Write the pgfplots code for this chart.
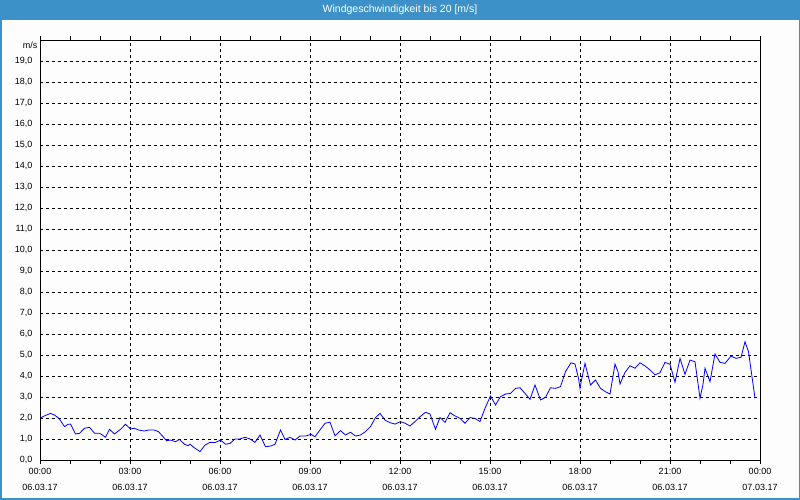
\documentclass[border=0pt]{standalone}
\usepackage{fontspec}
\setmainfont{Liberation Sans}
\usepackage{pgfplots}
\pgfplotsset{compat=1.18}
\definecolor{titleblue}{RGB}{60,145,200}
\definecolor{bgc}{RGB}{252,253,252}
\begin{document}
\begin{tikzpicture}[x=1pt,y=1pt]
\path[use as bounding box] (0,0) rectangle (800,500);
\fill[bgc] (0,0) rectangle (800,500);
\fill[titleblue] (0,480) rectangle (800,500);
\draw[titleblue, line width=3pt] (0,0) rectangle (800,500);
\node[text=white, font=\fontsize{10.5}{12}\selectfont] at (400,490.5) {Windgeschwindigkeit bis 20 [m/s]};
\node[anchor=east, font=\fontsize{9}{10}\selectfont, inner sep=0pt] at (37.5,455) {m/s};
\begin{axis}[
  at={(40pt,40pt)}, anchor=south west,
  scale only axis, width=720pt, height=420pt,
  xmin=0, xmax=1440, ymin=0, ymax=20,
  axis line style={black, line width=0.9pt},
  xtick={0,180,...,1440},
  minor x tick num=2,
  xticklabels={{00:00\\06.03.17},{03:00\\06.03.17},{06:00\\06.03.17},{09:00\\06.03.17},{12:00\\06.03.17},{15:00\\06.03.17},{18:00\\06.03.17},{21:00\\06.03.17},{00:00\\07.03.17}},
  xticklabel style={align=center, font=\fontsize{9}{15.7}\selectfont, yshift=-1pt},
  tick align=outside,
  major tick length=4pt, minor tick length=4pt,
  xtick style={black, line width=0.7pt},
  minor tick style={black, line width=0.7pt},
  ytick={0,1,...,19},
  ytick style={draw=none},
  /pgf/number format/assume math mode=true,
  yticklabel style={font=\fontsize{9}{10}\selectfont, /pgf/number format/.cd, fixed, fixed zerofill, precision=1, use comma},
  grid=major,
  major grid style={black, line width=0.6pt, dash pattern=on 3pt off 3pt},
]
\addplot[blue, line width=0.8pt] coordinates {
(1,2.0) (9,2.1) (21,2.22) (29,2.14) (38,1.98) (49,1.59) (56,1.70) (61,1.71)
(71,1.24) (79,1.27) (89,1.51) (99,1.56) (109,1.27) (119,1.27) (123,1.22) (131,1.08)
(139,1.46) (149,1.24) (161,1.46) (171,1.70) (181,1.48) (189,1.51) (197,1.43) (208,1.38)
(218,1.43) (228,1.43) (237,1.35) (248,1.06) (253,0.92) (261,0.95) (271,0.87) (279,0.98)
(289,0.75) (296,0.68) (300,0.75) (310,0.56) (320,0.40) (330,0.71) (340,0.84) (350,0.83)
(361,0.95) (371,0.75) (380,0.79) (390,1.0) (400,1.0) (410,1.08) (420,1.0) (430,0.84)
(440,1.19) (451,0.63) (462,0.67) (470,0.75) (481,1.43) (490,0.98) (500,1.08) (510,0.95)
(520,1.14) (531,1.14) (542,1.22) (550,1.11) (560,1.43) (570,1.75) (580,1.8) (590,1.15)
(601,1.40) (611,1.19) (621,1.32) (631,1.14) (641,1.19) (651,1.35) (661,1.59) (671,2.02)
(680,2.22) (690,1.90) (700,1.78) (710,1.71) (721,1.83) (730,1.75) (740,1.62) (750,1.83)
(760,2.06) (771,2.27) (780,2.19) (791,1.46) (800,2.03) (810,1.79) (820,2.25) (830,2.10)
(840,1.98) (850,1.75) (860,2.02) (870,1.98) (880,1.83) (890,2.46) (901,3.05) (911,2.62)
(921,3.02) (931,3.14) (941,3.17) (951,3.41) (960,3.44) (970,3.17) (980,2.89) (990,3.57)
(1001,2.86) (1011,2.98) (1021,3.44) (1031,3.41) (1041,3.49) (1051,4.21) (1062,4.63) (1070,4.57)
(1077,3.89) (1080,3.41) (1083,3.81) (1090,4.60) (1101,3.57) (1111,3.81) (1121,3.41) (1131,3.25)
(1140,3.14) (1150,4.57) (1156,4.20) (1160,3.62) (1170,4.17) (1180,4.49) (1190,4.37) (1200,4.63)
(1210,4.48) (1220,4.29) (1230,4.05) (1240,4.16) (1250,4.65) (1260,4.56) (1270,3.70) (1280,4.84)
(1290,4.08) (1300,4.76) (1310,4.68) (1320,2.94) (1326,3.6) (1330,4.37) (1340,3.73) (1350,5.05)
(1360,4.65) (1370,4.60) (1382,4.95) (1392,4.84) (1402,4.89) (1410,5.63) (1417,5.16) (1430,2.94)
};
\end{axis}
\end{tikzpicture}
\end{document}
